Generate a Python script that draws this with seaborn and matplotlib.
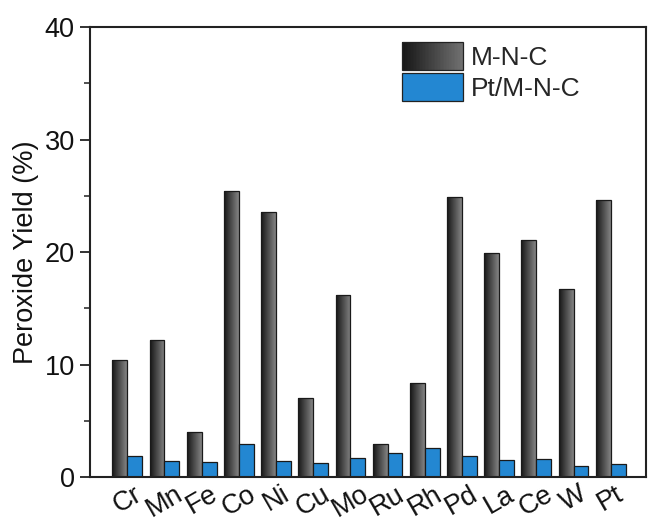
import numpy as np
import pandas as pd
import matplotlib
matplotlib.use("Agg")
import matplotlib.pyplot as plt
import seaborn as sns
from matplotlib.colors import LinearSegmentedColormap, to_rgb
from matplotlib.legend_handler import HandlerBase
from matplotlib.patches import Rectangle
from matplotlib.ticker import MultipleLocator

metals = ["Cr", "Mn", "Fe", "Co", "Ni", "Cu", "Mo", "Ru", "Rh", "Pd", "La", "Ce", "W", "Pt"]
mnc = [10.4, 12.2, 4.0, 25.4, 23.6, 7.0, 16.2, 2.9, 8.4, 24.9, 19.9, 21.1, 16.7, 24.6]
pt_mnc = [1.87, 1.45, 1.36, 2.93, 1.45, 1.2, 1.72, 2.13, 2.6, 1.84, 1.5, 1.63, 1.0, 1.13]
series = ["M-N-C", "Pt/M-N-C"]

df = pd.DataFrame({
    "metal": metals * 2,
    "series": [series[0]] * len(metals) + [series[1]] * len(metals),
    "value": mnc + pt_mnc,
})

sns.set_theme(style="ticks")
plt.rcParams["font.family"] = ["Liberation Sans", "DejaVu Sans"]

fig = plt.figure(figsize=(6.48, 5.23), dpi=100)
ax = fig.add_axes([0.139, 0.088, 0.858, 0.860])

dark_lo, dark_hi = "#161616", "#858585"
blue = "#2387d2"

sns.barplot(data=df, x="metal", y="value", hue="series", order=metals,
            hue_order=series, palette={series[0]: "#555555", series[1]: blue},
            width=0.8, gap=0, edgecolor="#1a1a1a", linewidth=0.9,
            saturation=1, ax=ax, legend=False)

cmap = LinearSegmentedColormap.from_list("g", [dark_lo, dark_hi])
grad = np.linspace(0, 1, 256).reshape(1, -1)
for bar in ax.containers[0]:
    x, y0, w, h = bar.get_x(), bar.get_y(), bar.get_width(), bar.get_height()
    im = ax.imshow(grad, cmap=cmap, extent=[x, x + w, y0, y0 + h],
                   aspect="auto", zorder=bar.get_zorder() - 0.1, interpolation="bicubic")
    im.set_clip_path(bar)
    bar.set_facecolor("none")

ax.set_xlim(-1.0, 13.95)
ax.set_ylim(0, 40)
ax.set_aspect("auto")
ax.yaxis.set_major_locator(MultipleLocator(10))
ax.yaxis.set_minor_locator(MultipleLocator(5))
ax.tick_params(axis="y", which="major", direction="out", length=7, width=1.3,
               labelsize=19.5, color="#222222", pad=4, labelcolor="#111111")
ax.tick_params(axis="y", which="minor", direction="out", length=4, width=1.1, color="#222222")
ax.tick_params(axis="x", length=0, labelsize=19.5, pad=3, labelcolor="#111111")
for lab in ax.get_xticklabels():
    lab.set_rotation(30)
    lab.set_ha("center")
ax.set_xlabel("")
ax.set_ylabel("Peroxide Yield (%)", fontsize=19.5, labelpad=4, color="#111111")
for s in ax.spines.values():
    s.set_visible(True)
    s.set_linewidth(1.5)
    s.set_color("#222222")


class GradHandler(HandlerBase):
    def create_artists(self, legend, orig, xd, yd, width, height, fontsize, trans):
        arts = []
        n = 40
        c0, c1 = np.array(to_rgb(dark_lo)), np.array(to_rgb("#707070"))
        for i in range(n):
            c = c0 + (c1 - c0) * i / (n - 1)
            r = Rectangle((-xd + width * i / n, -yd), width / n + 0.3, height,
                          facecolor=c, edgecolor="none", transform=trans)
            arts.append(r)
        arts.append(Rectangle((-xd, -yd), width, height, facecolor="none",
                              edgecolor="#222222", lw=0.9, transform=trans))
        return arts


h1 = Rectangle((0, 0), 1, 1, facecolor="#555555", edgecolor="#222222")
h2 = Rectangle((0, 0), 1, 1, facecolor=blue, edgecolor="#222222", lw=0.9)
ax.legend([h1, h2], series, handler_map={h1: GradHandler()}, loc="upper left",
          bbox_to_anchor=(0.561, 0.967), frameon=False, fontsize=19,
          handlelength=2.3, handleheight=1.25, handletextpad=0.3, labelspacing=0.12,
          borderpad=0, borderaxespad=0)

fig.savefig("out.png", dpi=100)
